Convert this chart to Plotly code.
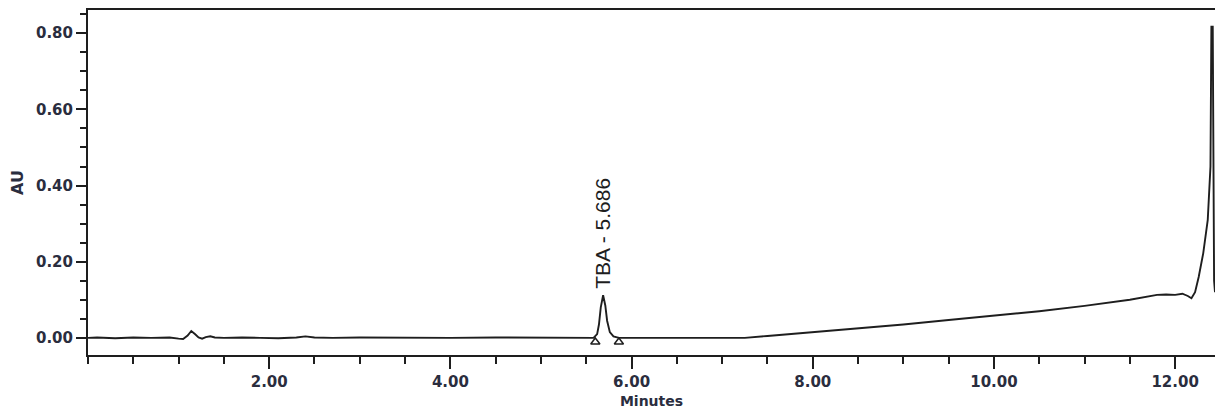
import plotly.graph_objects as go

# Retention time (minutes) and absorbance (AU)
time_min = [0.00, 0.10, 0.30, 0.50, 0.70, 0.90, 1.00, 1.05, 1.10, 1.14, 1.18, 1.22, 1.26, 1.30, 1.35, 1.40,
            1.50, 1.70, 1.90, 2.10, 2.30, 2.40, 2.50, 2.70, 3.00, 3.50, 4.00, 4.50, 5.00, 5.40,
            5.58, 5.62, 5.64, 5.66, 5.686, 5.71, 5.73, 5.76, 5.80, 5.86, 6.00, 6.50, 7.00, 7.25,
            7.50, 8.00, 8.50, 9.00, 9.50, 10.00, 10.50, 11.00, 11.50, 11.80, 11.90, 12.00, 12.08,
            12.14, 12.18, 12.22, 12.26, 12.31, 12.36, 12.39, 12.40, 12.415, 12.43, 12.44]
absorbance = [0.000, 0.001, -0.001, 0.001, 0.000, 0.001, -0.002, -0.003, 0.006, 0.018, 0.010, 0.001, -0.002, 0.002, 0.004, 0.001,
              0.000, 0.001, 0.000, -0.001, 0.001, 0.004, 0.001, 0.000, 0.001, 0.000, 0.000, 0.001, 0.000, 0.000,
              0.000, 0.010, 0.035, 0.080, 0.112, 0.085, 0.045, 0.015, 0.004, 0.000, 0.000, 0.000, 0.000, 0.000,
              0.005, 0.015, 0.025, 0.035, 0.047, 0.058, 0.070, 0.084, 0.100, 0.113, 0.114, 0.113, 0.116,
              0.110, 0.104, 0.120, 0.160, 0.222, 0.310, 0.450, 0.817, 0.817, 0.150, 0.120]

# Integration start/end markers of the labelled peak
peak_marks_time = [5.60, 5.86]
peak_marks_au = [-0.011, -0.011]

peak_name = "TBA"
peak_rt = 5.686
peak_height = 0.112

x_tickvals = [2, 4, 6, 8, 10, 12]
x_ticktext = ["2.00", "4.00", "6.00", "8.00", "10.00", "12.00"]
y_tickvals = [0.0, 0.2, 0.4, 0.6, 0.8]
y_ticktext = ["0.00", "0.20", "0.40", "0.60", "0.80"]

ink = "#1e1e1e"
label_color = "#2a2d3e"

fig = go.Figure()
fig.add_trace(go.Scatter(x=time_min, y=absorbance, mode="lines",
                         line=dict(color=ink, width=1.9), showlegend=False))
fig.add_trace(go.Scatter(x=peak_marks_time, y=peak_marks_au, mode="markers",
                         marker=dict(symbol="triangle-up-open", size=8, color=ink,
                                     line=dict(width=1.5, color=ink)),
                         showlegend=False, cliponaxis=False))

fig.add_annotation(x=peak_rt, y=peak_height, text=f"{peak_name} - {peak_rt:.3f}",
                   textangle=-90, showarrow=False, xanchor="center", yanchor="bottom",
                   yshift=4, font=dict(family="Liberation Sans", size=21, color=ink))

tick_font = dict(family="DejaVu Sans", size=15, color=label_color, weight="bold")

fig.update_layout(
    width=1215, height=412,
    margin=dict(l=88, r=0, t=10, b=57),
    paper_bgcolor="white", plot_bgcolor="white",
    xaxis=dict(range=[0, 12.44], showgrid=False, zeroline=False,
               showline=True, linecolor=ink, linewidth=2, mirror=True,
               ticks="outside", ticklen=12, tickwidth=2, tickcolor=ink,
               tickvals=x_tickvals, ticktext=x_ticktext, tickfont=tick_font,
               minor=dict(dtick=0.5, tick0=0, ticks="outside", ticklen=7,
                          tickwidth=2, tickcolor=ink, showgrid=False),
               title=dict(text="Minutes", standoff=6,
                          font=dict(family="DejaVu Sans", size=14, color=label_color, weight="bold"))),
    yaxis=dict(range=[-0.045, 0.861], showgrid=False, zeroline=False,
               showline=True, linecolor=ink, linewidth=2,
               ticks="outside", ticklen=10, tickwidth=2, tickcolor=ink,
               tickvals=y_tickvals, ticktext=y_ticktext, tickfont=tick_font,
               minor=dict(dtick=0.05, tick0=0, ticks="outside", ticklen=6,
                          tickwidth=2, tickcolor=ink, showgrid=False),
               title=dict(text="AU", standoff=8,
                          font=dict(family="DejaVu Sans", size=16, color=label_color, weight="bold"))),
)

fig.write_html("out.html", config={"displayModeBar": False},
               post_script="document.body.style.margin='0';document.body.style.overflow='hidden';")
